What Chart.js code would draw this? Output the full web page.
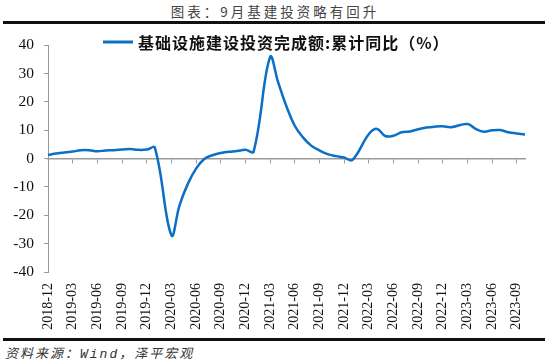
<!DOCTYPE html>
<html>
<head>
<meta charset="utf-8">
<script src="https://cdn.jsdelivr.net/npm/chart.js@4.4.0/dist/chart.umd.min.js"></script>
<style>
  body { margin: 0; width: 550px; height: 362px; background: #fff; position: relative; overflow: hidden; }
  #title { position: absolute; top: 1px; left: 0; width: 550px; text-align: center; font: 13.5px "Noto Sans CJK SC"; letter-spacing: 3px; color: #444; }
  .rule { position: absolute; left: 3px; width: 542px; height: 3px; background: #111; }
  #chart { position: absolute; top: 26px; left: 0; }
  #source { position: absolute; top: 343px; left: 5px; font: italic 13px "Noto Sans CJK SC"; letter-spacing: 2px; color: #333; }
</style>
</head>
<body>
<div id="title">图表：9月基建投资略有回升</div>
<div class="rule" style="top:21px"></div>
<canvas id="chart" width="550" height="310"></canvas>
<div class="rule" style="top:338px"></div>
<div id="source">资料来源：<span style="font-family:'Liberation Mono'">Wind</span>，泽平宏观</div>
<script>
// axis months (each value sits on the month tick after its report month)
const months = [
  "2018-12","2019-01","2019-02","2019-03","2019-04","2019-05","2019-06","2019-07","2019-08","2019-09","2019-10","2019-11",
  "2019-12","2020-01","2020-02","2020-03","2020-04","2020-05","2020-06","2020-07","2020-08","2020-09","2020-10","2020-11",
  "2020-12","2021-01","2021-02","2021-03","2021-04","2021-05","2021-06","2021-07","2021-08","2021-09","2021-10","2021-11",
  "2021-12","2022-01","2022-02","2022-03","2022-04","2022-05","2022-06","2022-07","2022-08","2022-09","2022-10","2022-11",
  "2022-12","2023-01","2023-02","2023-03","2023-04","2023-05","2023-06","2023-07","2023-08","2023-09","2023-10"
];
const infraYoY = [
  1.3, 1.8, null, 2.5, 3.0, 3.0, 2.6, 2.9, 3.0, 3.2, 3.4, 3.1,
  3.2, 3.8, null, -27.0, -16.4, -8.9, -3.5, -0.1, 1.2, 2.0, 2.4, 2.7,
  3.1, 2.5, null, 35.8, 26.8, 18.4, 11.6, 7.5, 4.6, 2.9, 1.6, 0.9,
  0.4, -0.5, null, 8.6, 10.5, 8.0, 8.1, 9.3, 9.6, 10.4, 11.0, 11.3,
  11.4, 11.1, null, 12.2, 10.5, 9.5, 10.0, 10.1, 9.3, 8.9, 8.5
];
const tickLabels = [
  "2018-12","2019-03","2019-06","2019-09","2019-12","2020-03","2020-06","2020-09","2020-12","2021-03",
  "2021-06","2021-09","2021-12","2022-03","2022-06","2022-09","2022-12","2023-03","2023-06","2023-09"
];
const seriesName = "基础设施建设投资完成额:累计同比（%）";

const blue = "#0b6fc6";
const axisGray = "#9a9a9a";

// legend drawn over the plot, like the original
const legendInside = {
  id: "legendInside",
  afterDraw(chart) {
    const ctx = chart.ctx;
    const ds = chart.data.datasets[0];
    ctx.save();
    ctx.strokeStyle = ds.borderColor;
    ctx.lineWidth = 3;
    ctx.beginPath();
    ctx.moveTo(103, 16);
    ctx.lineTo(133, 16);
    ctx.stroke();
    ctx.fillStyle = "#111";
    ctx.font = "bold 16px 'Noto Sans CJK SC'";
    ctx.letterSpacing = "1px";
    ctx.textBaseline = "middle";
    ctx.fillText(ds.label, 138, 17);
    ctx.restore();
  }
};

new Chart(document.getElementById("chart"), {
  type: "line",
  data: {
    labels: months,
    datasets: [{
      label: seriesName,
      data: infraYoY,
      borderColor: blue,
      borderWidth: 2.5,
      pointRadius: 0,
      tension: 0.4,
      spanGaps: true,
      fill: false
    }]
  },
  options: {
    responsive: false,
    animation: false,
    layout: { padding: { top: 14, right: 25, bottom: 0, left: 0 } },
    plugins: { legend: { display: false }, tooltip: { enabled: false } },
    scales: {
      x: {
        type: "category",
        grid: { display: false, drawTicks: false },
        border: { display: false },
        ticks: {
          autoSkip: false,
          minRotation: 90,
          maxRotation: 90,
          padding: 11,
          color: "#111",
          font: { family: "Liberation Serif", size: 14 },
          callback: (v, i) => tickLabels.includes(months[i]) ? months[i] : null
        },
        afterFit: (s) => { s.height = 64; }
      },
      x2: {
        type: "category",
        position: { y: 0 },
        grid: {
          drawOnChartArea: false,
          drawTicks: true,
          tickLength: 4,
          lineWidth: 1,
          color: (c) => c.index % 3 === 0 ? axisGray : "rgba(0,0,0,0)"
        },
        border: { display: true, color: axisGray, width: 1.5 },
        ticks: { display: false }
      },
      y: {
        min: -40,
        max: 40,
        grid: { drawOnChartArea: false, drawTicks: true, tickLength: 4, color: axisGray },
        border: { display: true, color: axisGray, width: 1 },
        ticks: {
          stepSize: 10,
          padding: 10,
          color: "#111",
          font: { family: "Liberation Serif", size: 15.5 }
        },
        afterFit: (s) => { s.width = 48; }
      }
    }
  },
  plugins: [legendInside]
});
</script>
</body>
</html>
